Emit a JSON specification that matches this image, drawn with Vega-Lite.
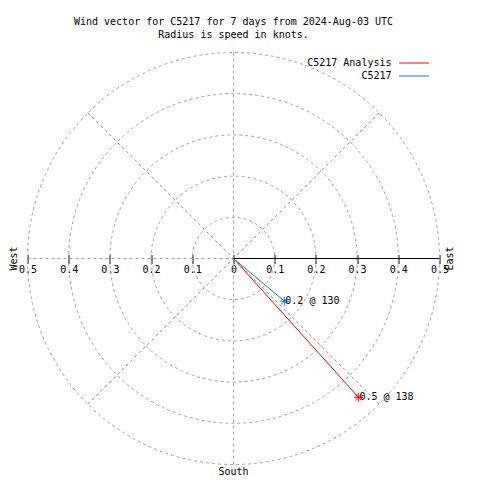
{
  "$schema": "https://vega.github.io/schema/vega-lite/v6.json",
  "width": 412,
  "height": 412,
  "autosize": {"type": "none"},
  "padding": {"left": 27.5, "top": 52.5, "right": 40.5, "bottom": 15.5},
  "background": "white",
  "title": {
    "text": ["Wind vector for C5217 for 7 days from 2024-Aug-03 UTC", "Radius is speed in knots."],
    "font": "DejaVu Sans Mono",
    "fontSize": 10,
    "fontWeight": "normal",
    "color": "black",
    "lineHeight": 13,
    "anchor": "middle",
    "frame": "group",
    "offset": 1,
    "baseline": "bottom"
  },
  "config": {
    "view": {"stroke": null},
    "font": "DejaVu Sans Mono",
    "axisX": {
      "orient": "bottom", "offset": -210, "domain": false, "grid": false,
      "labelFont": "DejaVu Sans Mono", "labelFontSize": 10, "labelColor": "black",
      "tickColor": "black", "tickSize": 9, "tickWidth": 1, "labelPadding": 1,
      "labelOverlap": false, "labelFlush": false, "labelBound": false, "zindex": 1
    }
  },
  "datasets": {
    "rings": [{"r": 0.1}, {"r": 0.2}, {"r": 0.3}, {"r": 0.4}, {"r": 0.5}],
    "spokes": [{"bearing": 0}, {"bearing": 45}, {"bearing": 90}, {"bearing": 135}, {"bearing": 180}, {"bearing": 225}, {"bearing": 270}, {"bearing": 315}],
    "vectors": [
      {"series": "C5217 Analysis", "speed": 0.453, "direction": 138, "label": "0.5 @ 138"},
      {"series": "C5217", "speed": 0.161, "direction": 130, "label": "0.2 @ 130"}
    ]
  },
  "layer": [
    {
      "data": {"name": "rings"},
      "mark": {"type": "point", "shape": "circle", "filled": false, "stroke": "#a0a0a0", "strokeWidth": 1, "strokeDash": [3, 3], "opacity": 1},
      "encoding": {
        "x": {"datum": 0, "type": "quantitative", "scale": {"domain": [-0.5, 0.5], "nice": false, "zero": false},
          "axis": {"title": null, "values": [-0.5, -0.4, -0.3, -0.2, -0.1, 0, 0.1, 0.2, 0.3, 0.4, 0.5], "labelExpr": "format(abs(datum.value), '.1~f')"}},
        "y": {"datum": 0, "type": "quantitative", "scale": {"domain": [-0.5, 0.5], "nice": false, "zero": false}, "axis": null},
        "size": {"field": "r", "type": "quantitative", "scale": {"type": "pow", "exponent": 2, "domain": [0, 0.5], "range": [0, 169744], "zero": true, "nice": false}, "legend": null}
      }
    },
    {
      "data": {"name": "spokes"},
      "transform": [
        {"calculate": "0.5 * sin(datum.bearing * PI / 180)", "as": "u"},
        {"calculate": "0.5 * cos(datum.bearing * PI / 180)", "as": "v"}
      ],
      "mark": {"type": "rule", "stroke": "#a0a0a0", "strokeWidth": 1, "strokeDash": [3, 3]},
      "encoding": {
        "x": {"field": "u", "type": "quantitative",
          "axis": {"title": null, "values": [-0.5, -0.4, -0.3, -0.2, -0.1, 0, 0.1, 0.2, 0.3, 0.4, 0.5], "labelExpr": "format(abs(datum.value), '.1~f')"}},
        "y": {"field": "v", "type": "quantitative", "axis": null},
        "x2": {"datum": 0},
        "y2": {"datum": 0}
      }
    },
    {
      "data": {"name": "spokes"},
      "transform": [
        {"filter": "datum.bearing == 90"},
        {"calculate": "0.5 * sin(datum.bearing * PI / 180)", "as": "u"},
        {"calculate": "0.5 * cos(datum.bearing * PI / 180)", "as": "v"}
      ],
      "mark": {"type": "rule", "stroke": "black", "strokeWidth": 1},
      "encoding": {
        "x": {"field": "u", "type": "quantitative",
          "axis": {"title": null, "values": [-0.5, -0.4, -0.3, -0.2, -0.1, 0, 0.1, 0.2, 0.3, 0.4, 0.5], "labelExpr": "format(abs(datum.value), '.1~f')"}},
        "y": {"field": "v", "type": "quantitative", "axis": null},
        "x2": {"datum": 0},
        "y2": {"datum": 0}
      }
    },
    {
      "data": {"values": [{"name": "West"}]},
      "mark": {"type": "text", "angle": 270, "align": "center", "baseline": "middle", "font": "DejaVu Sans Mono", "fontSize": 10, "color": "black"},
      "encoding": {
        "x": {"datum": -0.533, "type": "quantitative",
          "axis": {"title": null, "values": [-0.5, -0.4, -0.3, -0.2, -0.1, 0, 0.1, 0.2, 0.3, 0.4, 0.5], "labelExpr": "format(abs(datum.value), '.1~f')"}},
        "y": {"datum": 0, "type": "quantitative", "axis": null},
        "text": {"field": "name"}
      }
    },
    {
      "data": {"values": [{"name": "East"}]},
      "mark": {"type": "text", "angle": 270, "align": "center", "baseline": "middle", "font": "DejaVu Sans Mono", "fontSize": 10, "color": "black"},
      "encoding": {
        "x": {"datum": 0.5255, "type": "quantitative",
          "axis": {"title": null, "values": [-0.5, -0.4, -0.3, -0.2, -0.1, 0, 0.1, 0.2, 0.3, 0.4, 0.5], "labelExpr": "format(abs(datum.value), '.1~f')"}},
        "y": {"datum": 0, "type": "quantitative", "axis": null},
        "text": {"field": "name"}
      }
    },
    {
      "data": {"values": [{"name": "South"}]},
      "mark": {"type": "text", "align": "center", "baseline": "middle", "font": "DejaVu Sans Mono", "fontSize": 10, "color": "black"},
      "encoding": {
        "x": {"datum": 0, "type": "quantitative",
          "axis": {"title": null, "values": [-0.5, -0.4, -0.3, -0.2, -0.1, 0, 0.1, 0.2, 0.3, 0.4, 0.5], "labelExpr": "format(abs(datum.value), '.1~f')"}},
        "y": {"datum": -0.517, "type": "quantitative", "axis": null},
        "text": {"field": "name"}
      }
    },
    {
      "data": {"name": "vectors"},
      "transform": [
        {"calculate": "datum.speed * sin(datum.direction * PI / 180)", "as": "u"},
        {"calculate": "datum.speed * cos(datum.direction * PI / 180)", "as": "v"}
      ],
      "mark": {"type": "rule", "strokeWidth": 1},
      "encoding": {
        "x": {"field": "u", "type": "quantitative",
          "axis": {"title": null, "values": [-0.5, -0.4, -0.3, -0.2, -0.1, 0, 0.1, 0.2, 0.3, 0.4, 0.5], "labelExpr": "format(abs(datum.value), '.1~f')"}},
        "y": {"field": "v", "type": "quantitative", "axis": null},
        "x2": {"datum": 0},
        "y2": {"datum": 0},
        "color": {
          "field": "series", "type": "nominal",
          "scale": {"domain": ["C5217 Analysis", "C5217"], "range": ["#ff0000", "#1e78dc"]},
          "legend": {
            "title": null, "orient": "none", "legendX": 381, "legendY": 5, "padding": 0,
            "symbolType": "M-3,0H3", "symbolSize": 100, "symbolStrokeWidth": 1,
            "labelAlign": "right", "labelOffset": -28, "labelFont": "DejaVu Sans Mono",
            "labelFontSize": 10, "labelColor": "black", "rowPadding": 2, "labelLimit": 200
          }
        }
      }
    },
    {
      "data": {"name": "vectors"},
      "transform": [
        {"calculate": "datum.speed * sin(datum.direction * PI / 180)", "as": "u"},
        {"calculate": "datum.speed * cos(datum.direction * PI / 180)", "as": "v"}
      ],
      "mark": {"type": "point", "shape": "M-1,0H1M0,-1V1M-0.7,-0.7L0.7,0.7M-0.7,0.7L0.7,-0.7", "filled": false, "size": 81, "strokeWidth": 1, "opacity": 1},
      "encoding": {
        "x": {"field": "u", "type": "quantitative",
          "axis": {"title": null, "values": [-0.5, -0.4, -0.3, -0.2, -0.1, 0, 0.1, 0.2, 0.3, 0.4, 0.5], "labelExpr": "format(abs(datum.value), '.1~f')"}},
        "y": {"field": "v", "type": "quantitative", "axis": null},
        "stroke": {
          "field": "series", "type": "nominal",
          "scale": {"domain": ["C5217 Analysis", "C5217"], "range": ["#ff0000", "#1e78dc"]},
          "legend": null
        }
      }
    },
    {
      "data": {"name": "vectors"},
      "transform": [
        {"calculate": "datum.speed * sin(datum.direction * PI / 180)", "as": "u"},
        {"calculate": "datum.speed * cos(datum.direction * PI / 180)", "as": "v"}
      ],
      "mark": {"type": "text", "align": "left", "baseline": "middle", "dx": 1, "font": "DejaVu Sans Mono", "fontSize": 10, "color": "black"},
      "encoding": {
        "x": {"field": "u", "type": "quantitative",
          "axis": {"title": null, "values": [-0.5, -0.4, -0.3, -0.2, -0.1, 0, 0.1, 0.2, 0.3, 0.4, 0.5], "labelExpr": "format(abs(datum.value), '.1~f')"}},
        "y": {"field": "v", "type": "quantitative", "axis": null},
        "text": {"field": "label"}
      }
    }
  ]
}
